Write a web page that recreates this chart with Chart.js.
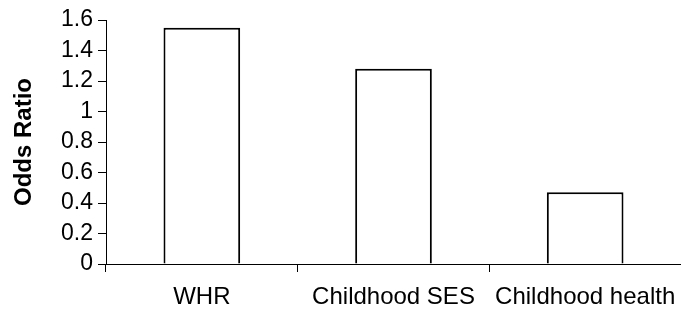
<!DOCTYPE html>
<html>
<head>
<meta charset="utf-8">
<script src="https://cdn.jsdelivr.net/npm/chart.js@4"></script>
<style>
html,body{margin:0;padding:0;background:#fff;}
#wrap{width:681px;height:311px;position:relative;}
</style>
</head>
<body>
<div id="wrap"><canvas id="c" width="681" height="311"></canvas></div>
<script>
const categories = ["WHR", "Childhood SES", "Childhood health"];
const oddsRatio = [1.55, 1.28, 0.47];
const yTicks = [0, 0.2, 0.4, 0.6, 0.8, 1, 1.2, 1.4, 1.6];

const FONT = "'Liberation Sans', Arial, sans-serif";

new Chart(document.getElementById('c'), {
  type: 'bar',
  data: {
    labels: categories,
    datasets: [{
      data: oddsRatio,
      backgroundColor: '#ffffff',
      borderColor: '#000000',
      borderWidth: 2,
      borderSkipped: 'bottom',
      barPercentage: 0.4,
      categoryPercentage: 1.0
    }]
  },
  options: {
    responsive: false,
    animation: false,
    devicePixelRatio: 1,
    layout: { padding: { top: 20, right: 0, left: 0, bottom: 0 } },
    plugins: { legend: { display: false }, tooltip: { enabled: false } },
    scales: {
      x: {
        offset: true,
        grid: { display: true, drawOnChartArea: false, drawTicks: true, tickLength: 8, color: '#000', offset: true },
        border: { display: true, color: '#000', width: 1 },
        ticks: { color: '#000', font: { family: FONT, size: 24 }, padding: 11, maxRotation: 0, autoSkip: false },
        afterFit: (s) => { s.height = 47; s.paddingLeft = 0; s.paddingRight = 0; }
      },
      y: {
        min: yTicks[0],
        max: yTicks[yTicks.length - 1],
        afterBuildTicks: (s) => { s.ticks = yTicks.map(v => ({ value: v })); },
        grid: { display: true, drawOnChartArea: false, drawTicks: true, tickLength: 8, color: '#000' },
        border: { display: true, color: '#000', width: 1 },
        ticks: { color: '#000', font: { family: FONT, size: 23 }, padding: 5, autoSkip: false,
          callback: (v) => String(Math.round(v * 10) / 10) },
        title: { display: true, text: 'Odds Ratio', color: '#000',
          font: { family: FONT, size: 24, weight: 'bold' }, padding: { top: 10, bottom: 0 } },
        afterFit: (s) => { s.width = 106; s.paddingTop = 0; s.paddingBottom = 0; }
      }
    }
  }
});
</script>
</body>
</html>
